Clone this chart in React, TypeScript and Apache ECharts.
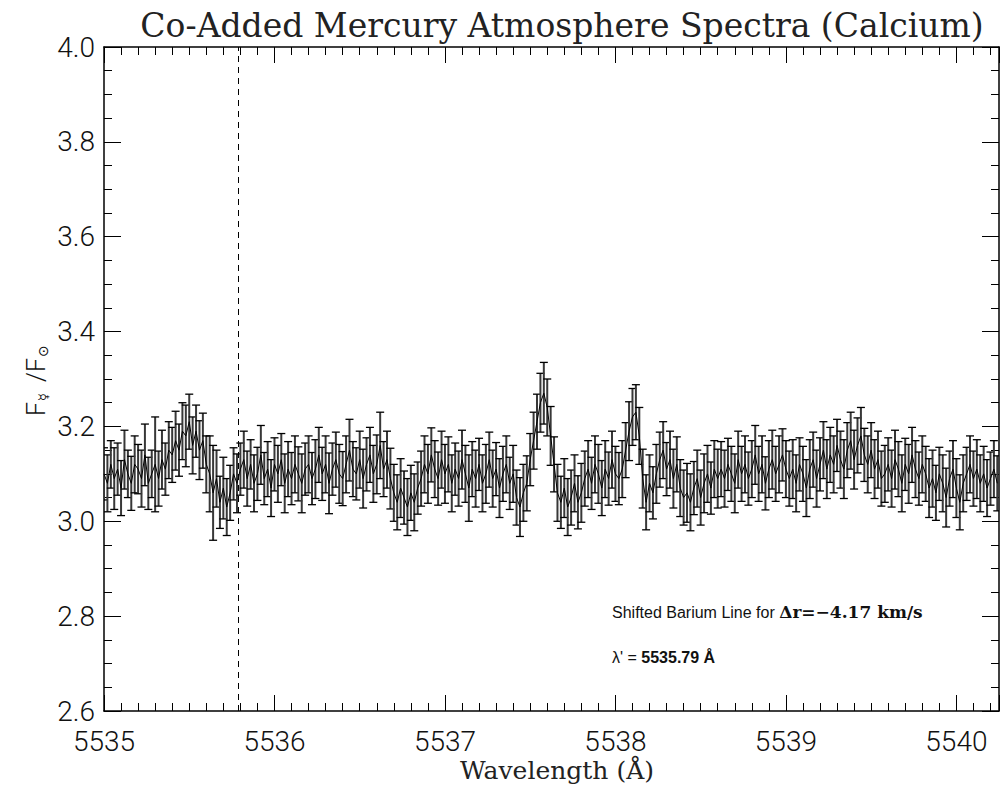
import React, { useEffect, useRef } from "react";
import * as echarts from "echarts";

// ---------- DATA ----------
const START_WAVELENGTH = 5535.0;
const STEP = 0.02;
const SHIFTED_LINE = 5535.79;
const X_TICKS = [5535, 5536, 5537, 5538, 5539, 5540];
const Y_TICKS = [2.6, 2.8, 3.0, 3.2, 3.4, 3.6, 3.8, 4.0];

const fluxRatio: number[] = [
  // 5535.00 - 5535.38
  3.10, 3.08, 3.12, 3.09, 3.11, 3.07, 3.13, 3.10, 3.08, 3.12,
  3.11, 3.09, 3.14, 3.08, 3.10, 3.12, 3.09, 3.13, 3.11, 3.15,
  // 5535.40 - 5535.60 bump
  3.14, 3.17, 3.15, 3.19, 3.18, 3.21, 3.16, 3.19, 3.15, 3.17, 3.12,
  // 5535.62 - 5535.78
  3.10, 3.06, 3.09, 3.04, 3.07, 3.03, 3.06, 3.10, 3.08,
  // 5535.80 - 5536.18
  3.11, 3.13, 3.09, 3.12, 3.08, 3.10, 3.14, 3.09, 3.11, 3.07,
  3.12, 3.10, 3.13, 3.08, 3.11, 3.09, 3.12, 3.10, 3.08, 3.11,
  // 5536.20 - 5536.68
  3.12, 3.09, 3.11, 3.14, 3.10, 3.12, 3.08, 3.11, 3.13, 3.10,
  3.09, 3.12, 3.15, 3.11, 3.10, 3.13, 3.09, 3.12, 3.14, 3.10,
  3.12, 3.16, 3.11, 3.13, 3.09,
  // 5536.70 - 5536.86 dip
  3.06, 3.04, 3.07, 3.05, 3.03, 3.06, 3.04, 3.07, 3.09,
  // 5536.88 - 5537.40
  3.12, 3.10, 3.14, 3.11, 3.09, 3.13, 3.10, 3.12, 3.08, 3.11,
  3.09, 3.13, 3.10, 3.07, 3.11, 3.09, 3.12, 3.08, 3.10, 3.13,
  3.09, 3.11, 3.07, 3.10, 3.12, 3.08, 3.10,
  // 5537.42 - 5537.48
  3.05, 3.03, 3.06, 3.08,
  // 5537.50 - 5537.64 peak
  3.13, 3.17, 3.21, 3.25, 3.27, 3.24, 3.18, 3.12,
  // 5537.66 - 5537.80
  3.06, 3.04, 3.07, 3.03, 3.05, 3.08, 3.04, 3.06,
  // 5537.82 - 5538.00
  3.09, 3.11, 3.08, 3.12, 3.10, 3.07, 3.11, 3.09, 3.13, 3.10,
  // 5538.02 - 5538.16 peak
  3.09, 3.11, 3.15, 3.19, 3.22, 3.23, 3.18, 3.09,
  // 5538.18 - 5538.24
  3.04, 3.08, 3.06, 3.10,
  // 5538.26 - 5538.40
  3.13, 3.15, 3.11, 3.13, 3.09, 3.12, 3.07, 3.05,
  // 5538.42 - 5538.60
  3.06, 3.04, 3.07, 3.09, 3.05, 3.08, 3.10, 3.07, 3.11, 3.09,
  // 5538.62 - 5539.00
  3.11, 3.09, 3.12, 3.10, 3.08, 3.13, 3.10, 3.12, 3.09, 3.11,
  3.14, 3.10, 3.12, 3.08, 3.11, 3.13, 3.10, 3.12, 3.14, 3.11,
  // 5539.02 - 5539.24
  3.09, 3.11, 3.08, 3.12, 3.10, 3.07, 3.11, 3.13, 3.09, 3.12, 3.15, 3.11,
  // 5539.26 - 5539.56
  3.14, 3.12, 3.16, 3.13, 3.11, 3.15, 3.17, 3.13, 3.16, 3.18,
  3.14, 3.12, 3.15, 3.11, 3.13, 3.09,
  // 5539.58 - 5539.80
  3.10, 3.12, 3.09, 3.13, 3.11, 3.08, 3.12, 3.10, 3.14, 3.11, 3.09, 3.12,
  // 5539.82 - 5540.04
  3.10, 3.07, 3.09, 3.06, 3.10, 3.08, 3.05, 3.09, 3.11, 3.07, 3.04, 3.08,
  // 5540.06 - 5540.24
  3.10, 3.12, 3.09, 3.11, 3.08, 3.10, 3.07, 3.09, 3.11, 3.08,
];

const fluxError: number[] = [
  0.055, 0.060, 0.050, 0.065, 0.055, 0.058, 0.062, 0.050, 0.057, 0.060,
  0.052, 0.060, 0.065, 0.055, 0.050, 0.100, 0.058, 0.062, 0.055, 0.060,
  0.058, 0.062, 0.055, 0.060, 0.065, 0.058, 0.060, 0.055, 0.062, 0.058,
  0.060, 0.080, 0.100, 0.060, 0.055, 0.065, 0.060, 0.058, 0.055, 0.062,
  0.055, 0.060, 0.058, 0.052, 0.060, 0.056, 0.062, 0.055, 0.058, 0.060,
  0.056, 0.060, 0.055, 0.062, 0.058, 0.055, 0.060, 0.057, 0.062, 0.055,
  0.060, 0.055, 0.062, 0.058, 0.056, 0.060, 0.064, 0.055, 0.058, 0.062,
  0.057, 0.060, 0.065, 0.058, 0.055, 0.060, 0.062, 0.056, 0.058, 0.060,
  0.062, 0.070, 0.058, 0.060, 0.064, 0.060, 0.058, 0.062, 0.056, 0.060,
  0.058, 0.060, 0.055, 0.058, 0.060, 0.062, 0.057, 0.060, 0.056, 0.060,
  0.062, 0.058, 0.060, 0.055, 0.058, 0.062, 0.060, 0.070, 0.058, 0.060,
  0.055, 0.060, 0.062, 0.058, 0.060, 0.056, 0.062, 0.058, 0.060, 0.055,
  0.060, 0.058, 0.062, 0.060, 0.058, 0.055, 0.060, 0.058, 0.062, 0.065,
  0.060, 0.062, 0.058, 0.060, 0.055, 0.062, 0.060, 0.058, 0.060, 0.056,
  0.062, 0.058, 0.060, 0.055, 0.060, 0.062, 0.058, 0.060, 0.056, 0.060,
  0.058, 0.055, 0.060, 0.058, 0.062, 0.060, 0.058, 0.060, 0.062, 0.058,
  0.060, 0.055, 0.062, 0.058, 0.060, 0.056, 0.060, 0.062, 0.058, 0.060,
  0.058, 0.062, 0.060, 0.056, 0.060, 0.058, 0.062, 0.060, 0.055, 0.060,
  0.062, 0.058, 0.060, 0.055, 0.058, 0.062, 0.060, 0.058, 0.060, 0.056,
  0.060, 0.062, 0.058, 0.060, 0.056, 0.060, 0.062, 0.058, 0.060, 0.055,
  0.060, 0.058, 0.062, 0.060, 0.056, 0.058, 0.060, 0.062, 0.058, 0.060,
  0.056, 0.060, 0.062, 0.058, 0.060, 0.055, 0.060, 0.062, 0.058, 0.060,
  0.062, 0.058, 0.060, 0.056, 0.060, 0.058, 0.062, 0.060, 0.058, 0.060,
  0.056, 0.060, 0.062, 0.058, 0.060, 0.055, 0.062, 0.058, 0.060, 0.056,
  0.060, 0.058, 0.062, 0.060, 0.058, 0.056, 0.060, 0.062, 0.058, 0.060,
  0.062, 0.058, 0.060, 0.056, 0.060, 0.058, 0.062, 0.060, 0.058, 0.060,
  0.056, 0.060, 0.058,
];

const wavelengths: number[] = fluxRatio.map((_, i) => +(START_WAVELENGTH + i * STEP).toFixed(2));

export default function App() {
  const ref = useRef<HTMLDivElement>(null);

  useEffect(() => {
    if (!ref.current) return;
    const chart = echarts.init(ref.current, undefined, { renderer: "svg" });

    const lineData = wavelengths.map((w, i) => [w, fluxRatio[i]]);
    const errData = wavelengths.map((w, i) => {
      const e = fluxError[i] ?? 0.058;
      return [w, fluxRatio[i], fluxRatio[i] - e, fluxRatio[i] + e];
    });

    const XMIN = 5535;
    const XMAX = 5540.25;
    const axisLineStyle = { color: "#000", width: 1.5 };
    const tickFont = { fontFamily: "Roboto", fontWeight: 300, fontSize: 28, color: "#111" };

    const majorX = (pos: "bottom" | "top", labels: boolean) => ({
      type: "value",
      position: pos,
      min: XMIN,
      max: XMAX,
      interval: 1,
      axisLine: { show: true, onZero: false, lineStyle: axisLineStyle },
      axisTick: { show: true, inside: true, length: 16, lineStyle: { color: "#000", width: 1 } },
      axisLabel: {
        show: labels,
        margin: 16,
        ...tickFont,
        formatter: (v: number) => (X_TICKS.includes(Math.round(v * 1000) / 1000) ? String(Math.round(v)) : ""),
      },
      splitLine: { show: false },
    });
    const minorX = (pos: "bottom" | "top") => ({
      type: "value",
      position: pos,
      min: XMIN,
      max: XMAX,
      interval: 0.1,
      axisLine: { show: false },
      axisTick: { show: true, inside: true, length: 8, lineStyle: { color: "#000", width: 1 } },
      axisLabel: { show: false },
      splitLine: { show: false },
    });
    const yAx = (pos: "left" | "right", labels: boolean) => ({
      type: "value",
      position: pos,
      min: 2.6,
      max: 4.0,
      interval: 0.2,
      axisLine: { show: true, onZero: false, lineStyle: axisLineStyle },
      axisTick: { show: true, inside: true, length: 17, lineStyle: { color: "#000", width: 1 } },
      minorTick: { show: true, splitNumber: 4, length: 8, lineStyle: { color: "#000", width: 1 } },
      axisLabel: {
        show: labels,
        margin: 9,
        ...tickFont,
        formatter: (v: number) => {
          const r = Math.round(v * 10) / 10;
          return Y_TICKS.some((t) => Math.abs(t - r) < 1e-6) ? r.toFixed(1) : "";
        },
      },
      splitLine: { show: false },
      minorSplitLine: { show: false },
    });

    const option: any = {
      animation: false,
      backgroundColor: "#fff",
      grid: { left: 104, top: 47, right: 2, bottom: 78, containLabel: false },
      xAxis: [majorX("bottom", true), majorX("top", false), minorX("bottom"), minorX("top")],
      yAxis: [yAx("left", true), yAx("right", false)],
      series: [
        {
          type: "custom",
          xAxisIndex: 0,
          yAxisIndex: 0,
          clip: true,
          data: errData,
          z: 2,
          renderItem: (params: any, api: any) => {
            const x = api.value(0);
            const lo = api.coord([x, api.value(2)]);
            const hi = api.coord([x, api.value(3)]);
            const hw = 4;
            return {
              type: "group",
              children: [
                {
                  type: "line",
                  shape: { x1: lo[0], y1: lo[1], x2: hi[0], y2: hi[1] },
                  style: { stroke: "#383838", lineWidth: 2 },
                },
                {
                  type: "line",
                  shape: { x1: lo[0] - hw, y1: lo[1], x2: lo[0] + hw, y2: lo[1] },
                  style: { stroke: "#000", lineWidth: 1.3 },
                },
                {
                  type: "line",
                  shape: { x1: hi[0] - hw, y1: hi[1], x2: hi[0] + hw, y2: hi[1] },
                  style: { stroke: "#000", lineWidth: 1.3 },
                },
              ],
            };
          },
        },
        {
          type: "line",
          xAxisIndex: 0,
          yAxisIndex: 0,
          data: lineData,
          showSymbol: false,
          symbol: "none",
          z: 3,
          lineStyle: { color: "#000", width: 1 },
          markLine: {
            silent: true,
            symbol: ["none", "none"],
            label: { show: false },
            lineStyle: { color: "#000", type: [6, 5], width: 1 },
            data: [{ xAxis: SHIFTED_LINE }],
          },
        },
      ],
      graphic: [
        {
          type: "text",
          x: 562,
          y: 25,
          style: {
            text: "Co-Added Mercury Atmosphere Spectra (Calcium)",
            fontFamily: "DejaVu Serif",
            fontSize: 33,
            fill: "#222",
            align: "center",
            verticalAlign: "middle",
          },
        },
        {
          type: "text",
          x: 557,
          y: 770,
          style: {
            text: "Wavelength (Å)",
            fontFamily: "DejaVu Serif",
            fontSize: 25,
            fill: "#222",
            align: "center",
            verticalAlign: "middle",
          },
        },
        {
          type: "group",
          x: 36,
          y: 380,
          rotation: Math.PI / 2,
          children: [
            { type: "text", x: -36, y: 0, style: { text: "F", fontFamily: "Roboto", fontWeight: 300, fontSize: 25, fill: "#111", verticalAlign: "middle" } },
            { type: "text", x: -21, y: 7, style: { text: "☿", fontFamily: "DejaVu Sans", fontSize: 13, fill: "#111", verticalAlign: "middle" } },
            { type: "text", x: -2, y: 0, style: { text: "/F", fontFamily: "Roboto", fontWeight: 300, fontSize: 25, fill: "#111", verticalAlign: "middle" } },
            { type: "text", x: 23, y: 7, style: { text: "⊙", fontFamily: "DejaVu Sans", fontSize: 14, fill: "#111", verticalAlign: "middle" } },
          ],
        },
        {
          type: "text",
          x: 612,
          y: 612,
          style: {
            text: "{a|Shifted Barium Line for }{b|Δr=−4.17 km/s}",
            verticalAlign: "middle",
            rich: {
              a: { fontFamily: "Liberation Sans", fontSize: 16, fill: "#111", color: "#111" },
              b: { fontFamily: "DejaVu Serif", fontSize: 17, fontWeight: "bold", fill: "#111", color: "#111" },
            },
          },
        },
        {
          type: "text",
          x: 612,
          y: 657,
          style: {
            text: "{a|λ' = }{c|5535.79 Å}",
            verticalAlign: "middle",
            rich: {
              a: { fontFamily: "Liberation Sans", fontSize: 16, fill: "#111", color: "#111" },
              c: { fontFamily: "Liberation Sans", fontSize: 16, fontWeight: "bold", fill: "#111", color: "#111" },
            },
          },
        },
      ],
    };

    chart.setOption(option);
    return () => chart.dispose();
  }, []);

  return (
    <div
      ref={ref}
      style={{ position: "fixed", left: 0, top: 0, width: 1002, height: 789, background: "#fff" }}
    />
  );
}
